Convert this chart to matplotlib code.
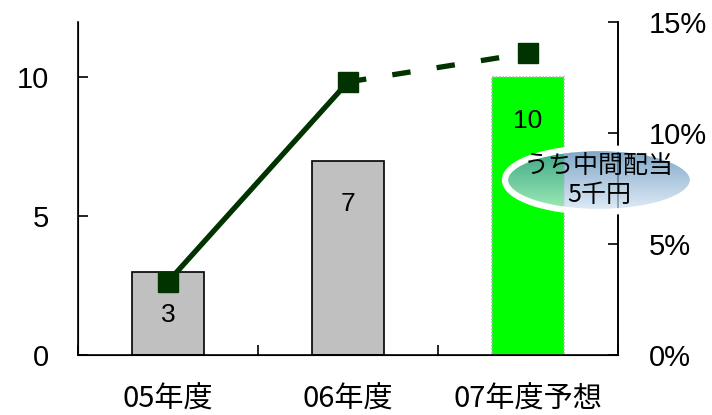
import numpy as np
import matplotlib
matplotlib.use("Agg")
import matplotlib.pyplot as plt
from matplotlib.patches import Ellipse

plt.rcParams['font.family'] = ['Liberation Sans', 'Noto Sans CJK JP', 'DejaVu Sans']

# Data
categories = ['05年度', '06年度', '07年度予想']
dividends = [3, 7, 10]                 # 配当金 (千円), left axis
payout_ratio = [3.3, 12.3, 13.6]       # 配当性向 (%), right axis
bar_colors = ['#c0c0c0', '#c0c0c0', '#00ff00']
bar_edges = ['#000000', '#000000', '#b0b0b0']
left_ticks = [0, 5, 10]
right_ticks = [0, 5, 10, 15]
note_text = 'うち中間配当\n5千円'
title_text = '1株当たり配当金と配当性向'

fig = plt.figure(figsize=(7.12, 4.15), dpi=100)
ax = fig.add_axes([78/712, 1 - 355/415, 540/712, 333/415])
x = np.arange(len(categories))

bars = ax.bar(x, dividends, width=0.4, color=bar_colors, edgecolor=bar_edges,
              linewidth=1.2, zorder=2)
bars[2].set_linestyle((0, (1, 1)))
for xi, v in zip(x, dividends):
    ax.text(xi, v - 1.55, str(v), ha='center', va='center', fontsize=19, zorder=3)

ax.set_xlim(-0.5, 2.5)
ax.set_ylim(0, 12)
ax.set_yticks(left_ticks)
ax.set_yticklabels([str(t) for t in left_ticks], fontsize=21)
ax.tick_params(axis='y', direction='in', length=7, width=1.2, pad=21)
ax.set_xticks([-0.5, 0.5, 1.5, 2.5], minor=False)
ax.set_xticklabels([])
ax.tick_params(axis='x', direction='in', length=7, width=1.2)
for xi, lab in zip(x, categories):
    ax.text(xi, -0.135, lab, transform=ax.get_xaxis_transform(), ha='center',
            va='center', fontsize=21,
            family=['Noto Sans CJK JP'])
for s in ['left', 'bottom', 'right']:
    ax.spines[s].set_linewidth(1.2)
ax.spines['top'].set_visible(False)

ax2 = ax.twinx()
ax2.set_ylim(0, 15)
ax2.set_yticks(right_ticks)
ax2.set_yticklabels([f'{t}%' for t in right_ticks], fontsize=21)
ax2.tick_params(axis='y', direction='in', length=7, width=1.2, pad=22)
ax2.spines['top'].set_visible(False)
ax2.spines['right'].set_linewidth(1.2)

line_color = '#003300'
ax2.plot(x[:2], payout_ratio[:2], color=line_color, linewidth=3.8, zorder=4)
ax2.plot(x[1:], payout_ratio[1:], color=line_color, linewidth=3.8,
         dashes=(3.5, 5), zorder=4)
ax2.plot(x, payout_ratio, linestyle='none', marker='s', markersize=14,
         color=line_color, zorder=5)

# Interim-dividend callout
eax = fig.add_axes([505/712, 1 - 212/415, 188/712, 64/415])
eax.set_xlim(0, 1)
eax.set_ylim(0, 1)
eax.axis('off')
grad = np.linspace(0, 1, 256).reshape(-1, 1)
top = np.array([0.30, 0.52, 0.70])
bottom = np.array([0.85, 0.91, 0.96])
img = bottom + (top - bottom) * grad[..., None] * np.ones((1, 1, 3))
img = np.concatenate([img, np.full((256, 1, 1), 0.75)], axis=2)
im = eax.imshow(img, extent=[0, 1, 0, 1], origin='lower', aspect='auto', zorder=1)
ell = Ellipse((0.5, 0.5), 1, 1, facecolor='none', edgecolor='white',
              linewidth=4.5, transform=eax.transData, clip_on=False, zorder=2)
eax.add_patch(ell)
clip = Ellipse((0.5, 0.5), 1, 1, transform=eax.transData)
im.set_clip_path(clip)
eax.text(0.5, 0.48, note_text, ha='center', va='center', fontsize=18,
         linespacing=1.1, family=['Noto Sans CJK JP'], zorder=3)

fig.text(220/712, 1.0 - 2/415, title_text, ha='center', va='bottom', fontsize=15,
         family=['Noto Sans CJK JP'])

fig.savefig('out.png', dpi=100)
